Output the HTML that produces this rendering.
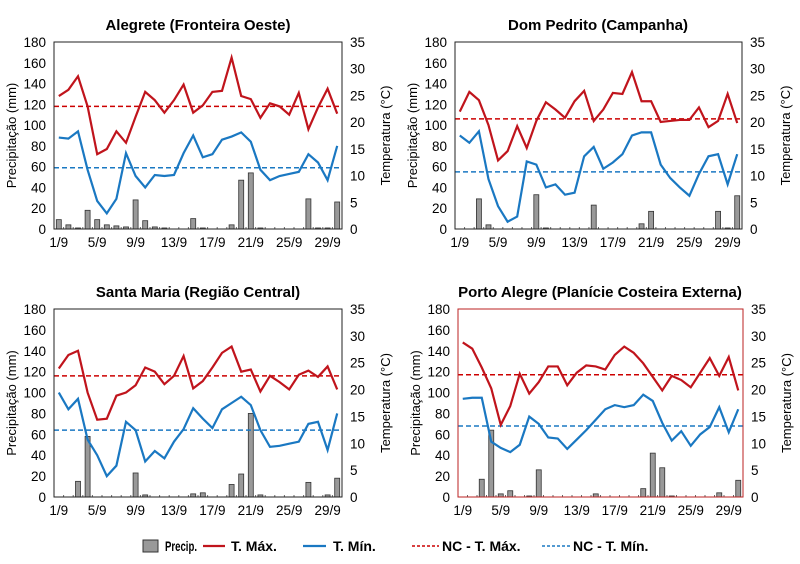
<!DOCTYPE html>
<html><head><meta charset="utf-8"><style>
body{margin:0;background:#fff;width:800px;height:559px;overflow:hidden;font-family:"Liberation Sans",Arial,sans-serif}
</style></head><body>
<svg id="s" width="800" height="559" xmlns="http://www.w3.org/2000/svg" font-family="Liberation Sans, Arial, sans-serif"></svg>
<script>
const P=[
{t:"Alegrete (Fronteira Oeste)",x0:54,x1:342,y0:42,y1:229,tx:198,ty:30,fc:"#222",
mx:[128,134,147,118,72,77,94,83,108,132,124,112,124,139,112,119,132,133,165,128,125,107,121,118,110,131,96,117,135,111],
mn:[88,87,94,57,27,15,29,73,51,40,52,51,52,73,90,69,72,86,89,93,84,57,47,51,53,55,72,64,47,80],
ncx:118,ncn:59,
pr:[9,4,1,18,9,4,3,2,28,8,2,1,0,0,10,1,0,0,4,47,54,1,0,0,0,0,29,1,1,26]},
{t:"Dom Pedrito (Campanha)",x0:455,x1:742,y0:42,y1:229,tx:598,ty:30,fc:"#222",
mx:[113,132,124,100,66,75,99,78,104,122,115,107,123,133,104,115,131,130,151,123,123,103,104,105,105,117,98,104,130,102],
mn:[90,83,94,48,22,7,12,65,62,40,43,33,35,70,79,58,64,72,90,93,93,62,49,40,32,53,70,72,43,72],
ncx:106,ncn:55,
pr:[0,0,29,4,0,0,0,0,33,1,0,0,0,0,23,0,0,0,0,5,17,0,0,0,0,0,0,17,1,32]},
{t:"Santa Maria (Região Central)",x0:54,x1:342,y0:309,y1:497,tx:198,ty:297,fc:"#222",
mx:[123,136,140,100,74,75,97,100,107,124,120,108,116,135,104,111,124,138,144,120,122,101,116,110,103,117,121,115,125,103],
mn:[100,84,94,55,40,20,30,72,64,34,44,37,53,65,85,75,66,84,90,96,88,64,48,49,51,53,70,72,45,80],
ncx:116,ncn:64,
pr:[0,0,15,58,0,0,0,0,23,2,0,0,0,0,3,4,0,0,12,22,80,2,0,0,0,0,14,0,2,18]},
{t:"Porto Alegre (Planície Costeira Externa)",x0:458,x1:743,y0:309,y1:497,tx:600,ty:297,fc:"#b22",
mx:[148,142,124,104,69,87,118,99,110,125,125,107,119,126,125,122,136,144,138,128,115,102,116,112,105,119,133,116,134,102],
mn:[94,95,95,53,47,43,50,77,70,57,56,46,55,64,74,84,88,86,88,98,92,71,54,63,49,60,67,86,62,84],
ncx:117,ncn:68,
pr:[0,0,17,64,3,6,0,1,26,0,0,0,0,0,3,0,0,0,0,8,42,28,1,0,0,0,0,4,0,16]}
];
let h='';
for(const p of P){
 const W=p.x1-p.x0,H=p.y1-p.y0,dx=W/30;
 const X=i=>p.x0+(i+0.5)*dx, Y=v=>p.y1-v/180*H;
 h+=`<text x="${p.tx}" y="${p.ty}" font-size="15" font-weight="bold" text-anchor="middle">${p.t}</text>`;
 for(let v=0;v<=180;v+=20)h+=`<text x="${p.x0-8}" y="${Y(v)+5}" font-size="13.5" text-anchor="end">${v}</text>`;
 for(let v=0;v<=35;v+=5)h+=`<text x="${p.x1+8}" y="${Y(v*180/35)+5}" font-size="13.5">${v}</text>`;
 for(let i=0;i<30;i+=4)h+=`<text x="${X(i)}" y="${p.y1+18}" font-size="13.5" text-anchor="middle">${i+1}/9</text>`;
 for(let i=0;i<=30;i++)h+=`<line x1="${p.x0+i*dx}" x2="${p.x0+i*dx}" y1="${p.y1}" y2="${p.y1-2}" stroke="#666"/>`;
 h+=`<text transform="translate(${p.x0-38},${(p.y0+p.y1)/2}) rotate(-90)" font-size="13" text-anchor="middle">Precipitação (mm)</text>`;
 h+=`<text transform="translate(${p.x1+48},${(p.y0+p.y1)/2}) rotate(-90)" font-size="13" text-anchor="middle">Temperatura (°C)</text>`;
 p.pr.forEach((v,i)=>{if(v>0)h+=`<rect x="${X(i)-2.5}" y="${Y(v)}" width="5" height="${p.y1-Y(v)}" fill="#999" stroke="#333" stroke-width="0.8"/>`});
 h+=`<line x1="${p.x0}" x2="${p.x1}" y1="${Y(p.ncx)}" y2="${Y(p.ncx)}" stroke="#c00" stroke-width="1.5" stroke-dasharray="5,3"/>`;
 h+=`<line x1="${p.x0}" x2="${p.x1}" y1="${Y(p.ncn)}" y2="${Y(p.ncn)}" stroke="#1a78c2" stroke-width="1.5" stroke-dasharray="5,3"/>`;
 h+=`<polyline fill="none" stroke="#c0141c" stroke-width="2.2" points="${p.mx.map((v,i)=>X(i)+','+Y(v)).join(' ')}"/>`;
 h+=`<polyline fill="none" stroke="#1a78c2" stroke-width="2.2" points="${p.mn.map((v,i)=>X(i)+','+Y(v)).join(' ')}"/>`;
 h+=`<rect x="${p.x0}" y="${p.y0}" width="${W}" height="${H}" fill="none" stroke="${p.fc}" stroke-width="1"/>`;
}
h+=`<rect x="143" y="540" width="15" height="12" fill="#999" stroke="#333"/><text x="165" y="551" font-size="14" font-weight="bold" textLength="32" lengthAdjust="spacingAndGlyphs">Precip.</text>`;
h+=`<line x1="203" x2="225" y1="546" y2="546" stroke="#c0141c" stroke-width="2.2"/><text x="231" y="551" font-size="14" font-weight="bold">T. Máx.</text>`;
h+=`<line x1="303" x2="326" y1="546" y2="546" stroke="#1a78c2" stroke-width="2.2"/><text x="333" y="551" font-size="14" font-weight="bold">T. Mín.</text>`;
h+=`<line x1="412" x2="439" y1="546" y2="546" stroke="#c00" stroke-width="1.5" stroke-dasharray="3,2"/><text x="442" y="551" font-size="14" font-weight="bold">NC - T. Máx.</text>`;
h+=`<line x1="542" x2="570" y1="546" y2="546" stroke="#1a78c2" stroke-width="1.5" stroke-dasharray="3,2"/><text x="573" y="551" font-size="14" font-weight="bold">NC - T. Mín.</text>`;
document.getElementById('s').innerHTML=h;
</script>
</body></html>
